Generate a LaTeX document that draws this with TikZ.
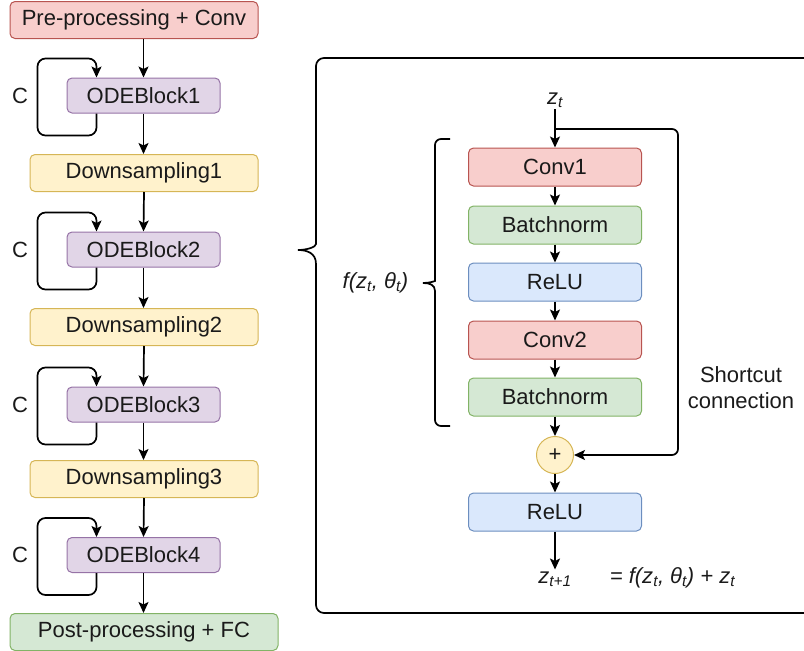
\documentclass[tikz,border=0pt]{standalone}
\usepackage{fontspec}
\setmainfont{Liberation Sans}
\usetikzlibrary{arrows.meta}
\definecolor{redfill}{HTML}{F8CECC}
\definecolor{redline}{HTML}{B85450}
\definecolor{greenfill}{HTML}{D5E8D4}
\definecolor{greenline}{HTML}{82B366}
\definecolor{bluefill}{HTML}{DAE8FC}
\definecolor{blueline}{HTML}{6C8EBF}
\definecolor{purplefill}{HTML}{E1D5E7}
\definecolor{purpleline}{HTML}{9673A6}
\definecolor{yellowfill}{HTML}{FFF2CC}
\definecolor{yellowline}{HTML}{D6B656}
\definecolor{inktext}{HTML}{1A1A1A}
\begin{document}
\begin{tikzpicture}[x=1pt,y=-1pt,line width=1.7pt,
        font=\fontsize{22}{26}\selectfont,text=inktext,
        >={Stealth[length=11pt,width=10pt,inset=2.5pt]},
        blk/.style={rectangle,rounded corners=5pt,line width=1pt,minimum height=37pt,inner sep=0pt},
        redblk/.style={blk,fill=redfill,draw=redline},
        greenblk/.style={blk,fill=greenfill,draw=greenline},
        blueblk/.style={blk,fill=bluefill,draw=blueline},
        purpleblk/.style={blk,fill=purplefill,draw=purpleline,minimum width=153pt,minimum height=35pt},
        yellowblk/.style={blk,fill=yellowfill,draw=yellowline,minimum width=228pt},
        innerblk/.style={minimum width=173pt,minimum height=38pt},
        loopback/.style={->,rounded corners=8pt}]
        \useasboundingbox (0,0) rectangle (804,651);

        % left column
        \draw (134,20) node (pre) [redblk,minimum width=248pt] {Pre-processing + Conv};
        \draw (143.5,95.5) node (ode1) [purpleblk] {ODEBlock1};
        \draw (144,173) node (down1) [yellowblk] {Downsampling1};
        \draw (143.5,249.5) node (ode2) [purpleblk] {ODEBlock2};
        \draw (144,327) node (down2) [yellowblk] {Downsampling2};
        \draw (143.5,404.5) node (ode3) [purpleblk] {ODEBlock3};
        \draw (144,479) node (down3) [yellowblk] {Downsampling3};
        \draw (143.5,555) node (ode4) [purpleblk] {ODEBlock4};
        \draw (144,632) node (post) [greenblk,minimum width=268pt] {Post-processing + FC};

        \draw (20,95.5) node (c1) {C};
        \draw (20,249.5) node (c2) {C};
        \draw (20,404.5) node (c3) {C};
        \draw (20,555) node (c4) {C};

        \draw [->] (pre.south -| ode1.north) -- (ode1.north);
        \draw [->] (ode1.south) -- (ode1.south |- down1.north);
        \draw [->] (down1.south) -- (ode2.north);
        \draw [->] (ode2.south) -- (ode2.south |- down2.north);
        \draw [->] (down2.south) -- (ode3.north);
        \draw [->] (ode3.south) -- (ode3.south |- down3.north);
        \draw [->] (down3.south) -- (ode4.north);
        \draw [->] (ode4.south) -- (ode4.south |- post.north);

        \draw [loopback] ([xshift=30pt]ode1.south west) -- ++(0,22) -- ++(-59,0) -- ++(0,-77) -- ++(59,0) -- ([xshift=30pt]ode1.north west);
        \draw [loopback] ([xshift=30pt]ode2.south west) -- ++(0,22) -- ++(-59,0) -- ++(0,-77) -- ++(59,0) -- ([xshift=30pt]ode2.north west);
        \draw [loopback] ([xshift=30pt]ode3.south west) -- ++(0,22) -- ++(-59,0) -- ++(0,-77) -- ++(59,0) -- ([xshift=30pt]ode3.north west);
        \draw [loopback] ([xshift=30pt]ode4.south west) -- ++(0,22) -- ++(-59,0) -- ++(0,-77) -- ++(59,0) -- ([xshift=30pt]ode4.north west);

        % big brace round the residual block
        \draw [rounded corners=8pt] (804,58) -- (316,58) -- (316,236) [sharp corners] .. controls (316,247) and (307,250) .. (298,250)
            .. controls (307,250) and (316,253) .. (316,264) [rounded corners=8pt] -- (316,613) -- (804,613);

        % residual block
        \draw (555,100) node (zt) [inner sep=1pt] {\textit{z\textsubscript{t}}};
        \draw (555,167) node (conv1) [redblk,innerblk] {Conv1};
        \draw (555,225) node (bn1) [greenblk,innerblk] {Batchnorm};
        \draw (555,282) node (relu1) [blueblk,innerblk] {ReLU};
        \draw (555,340) node (conv2) [redblk,innerblk] {Conv2};
        \draw (555,397) node (bn2) [greenblk,innerblk] {Batchnorm};
        \draw (555,455) node (plus) [circle,draw=yellowline,fill=yellowfill,line width=1pt,minimum size=37pt,inner sep=0pt,font=\fontsize{22}{24}\selectfont] {+};
        \draw (555,512) node (relu2) [blueblk,innerblk] {ReLU};
        \draw (555,583) node (zt1) [anchor=base,inner sep=1pt] {\textit{z\textsubscript{t+1}}};
        \draw (609,583) node (eq) [anchor=base west,inner sep=0pt] {\textit{= f(z\textsubscript{t}, θ\textsubscript{t}) + z\textsubscript{t}}};
        \draw (741,388) node (sclabel) [align=center] {Shortcut\\connection};
        \draw (409,283) node (flabel) [anchor=east,inner sep=0pt] {\textit{f(z\textsubscript{t}, θ\textsubscript{t})}};

        \coordinate (split) at (555,129);
        \coordinate (scturn) at (678,129);

        \draw [->] (zt.south) -- (conv1.north);
        \draw [->] (conv1.south) -- (bn1.north);
        \draw [->] (bn1.south) -- (relu1.north);
        \draw [->] (relu1.south) -- (conv2.north);
        \draw [->] (conv2.south) -- (bn2.north);
        \draw [->] (bn2.south) -- (plus.north);
        \draw [->] (plus.south) -- (relu2.north);
        \draw [->] (relu2.south) -- (zt1.north);
        \draw [->,rounded corners=6pt] (split) -- (scturn) |- (plus.east);

        % small brace for f
        \draw [rounded corners=6pt] (450,139) -- (435,139) -- (435,275) [sharp corners] .. controls (435,281) and (430,283) .. (423,283)
            .. controls (430,283) and (435,285) .. (435,291) [rounded corners=6pt] -- (435,426) -- (450,426);
    \end{tikzpicture}
\end{document}
